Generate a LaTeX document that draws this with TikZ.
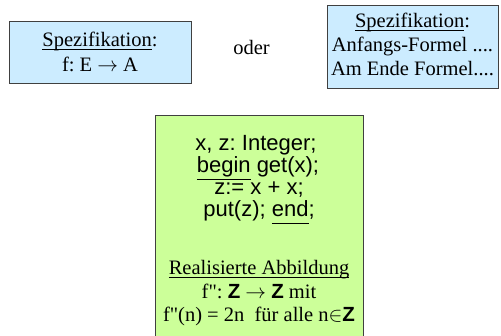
\documentclass[tikz,border=0pt]{standalone}
\usepackage{fontspec}
\setmainfont{Liberation Serif}
\setsansfont{Liberation Sans}
\newfontfamily\qfont{Liberation Serif}
\definecolor{specblue}{HTML}{CCECFF}
\definecolor{progreen}{HTML}{CCFF99}
\definecolor{boxline}{HTML}{404040}
\newcommand\ulser[1]{\leavevmode\setbox0\hbox{#1}\rlap{\rule[-3pt]{\wd0}{1pt}}\box0\relax}
\newcommand\ulsan[1]{\leavevmode\setbox0\hbox{#1}\rlap{\rule[-7pt]{\wd0}{1.2pt}}\box0\relax}
\newcommand\bZ{\textsf{\textbf{Z}}}
\newcommand\dq{{\qfont\char34}}
\tikzset{
  specbox/.style={draw=boxline, line width=0.9pt, fill=specblue},
  progbox/.style={draw=boxline, line width=0.9pt, fill=progreen},
  sertext/.style={font=\frenchspacing\fontsize{20.5}{22}\selectfont, anchor=base, inner sep=0pt},
  santext/.style={font=\frenchspacing\sffamily\fontsize{22}{22}\selectfont, anchor=base, inner sep=0pt},
}
\begin{document}
\begin{tikzpicture}[x=1pt,y=-1pt]
\useasboundingbox (0,0) rectangle (501,336);
\fill[white] (0,0) rectangle (501,336);
% left spec box
\path[specbox] (9,21) rectangle (191,83);
\node[sertext] (l1) at (100,47) {\ulser{Spezifikation}:};
\node[sertext] (l2) at (100,72) {f: E $\rightarrow$ A};
% oder
\node[sertext] (oder) at (251.5,55) {oder};
% right spec box
\path[specbox] (327,5) rectangle (498,88);
\node[sertext] (r1) at (412.5,28) {\ulser{Spezifikation}:};
\node[sertext] (r2) at (412.5,52) {Anfangs-Formel ....};
\node[sertext] (r3) at (412.5,75.5) {Am Ende Formel....};
% program box
\path[progbox] (155,115) rectangle (363,340);
\node[santext] (p1) at (256,151) {x, z: Integer;};
\node[santext] (p2) at (258,173) {\ulsan{begin} get(x);};
\node[santext] (p3) at (259,195) {z:= x + x;};
\node[santext] (p4) at (259,217) {put(z); \ulsan{end};};
\node[sertext] (a1) at (259,275) {\ulser{Realisierte Abbildung}};
\node[sertext] (a2) at (259,298.5) {f\dq: \bZ{} $\rightarrow$ \bZ{} mit};
\node[sertext] (a3) at (259,322) {f\dq(n) = 2n\ \ für alle n$\in$\bZ};
\end{tikzpicture}
\end{document}
